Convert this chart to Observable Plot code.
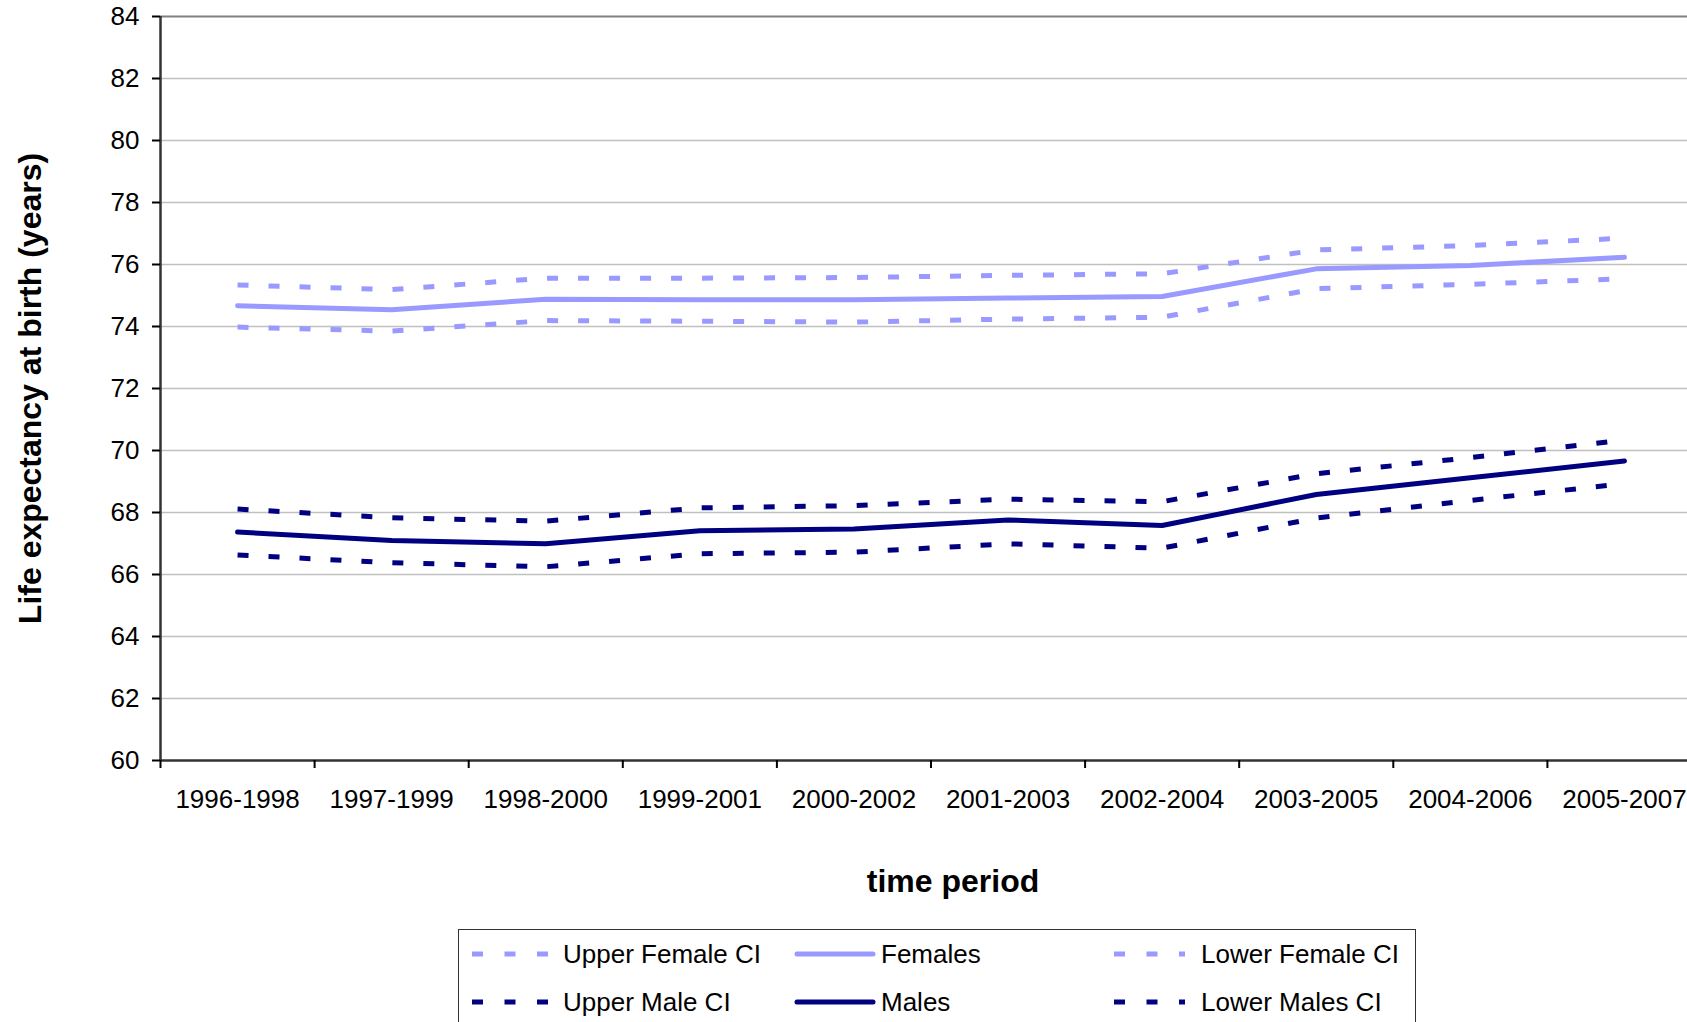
<!DOCTYPE html>
<html>
<head>
<meta charset="utf-8">
<script src="https://cdn.jsdelivr.net/npm/d3@7"></script>
<script src="https://cdn.jsdelivr.net/npm/@observablehq/plot@0.6"></script>
<style>
html, body { margin: 0; padding: 0; background: #fff; overflow: hidden; }
body { font-family: "Liberation Sans", Arial, sans-serif; color: #000; width: 1687px; height: 1022px; }
#chart svg { overflow: hidden; display: block; }
#legend { position: relative; margin-left: 458px; margin-top: 19px; width: 958px; height: 130px; border: 1.5px solid #333; box-sizing: border-box; background: #fff; }
.item { position: absolute; height: 40px; }
.item svg { position: absolute; left: 0; top: 0; overflow: visible; }
.item span { position: absolute; top: 50%; transform: translateY(-50%); font-size: 26px; white-space: nowrap; line-height: 1; }
</style>
</head>
<body>
<div id="chart"></div>
<div id="legend"></div>
<script>
// ---- data ----
const periods = ["1996-1998", "1997-1999", "1998-2000", "1999-2001", "2000-2002", "2001-2003", "2002-2004", "2003-2005", "2004-2006", "2005-2007"];
const upperFemaleCI = [75.34, 75.19, 75.56, 75.56, 75.58, 75.65, 75.70, 76.47, 76.61, 76.85];
const females       = [74.67, 74.54, 74.88, 74.86, 74.86, 74.92, 74.97, 75.86, 75.97, 76.23];
const lowerFemaleCI = [73.98, 73.85, 74.19, 74.17, 74.14, 74.24, 74.30, 75.22, 75.36, 75.54];
const upperMaleCI   = [68.11, 67.83, 67.72, 68.15, 68.22, 68.43, 68.35, 69.25, 69.77, 70.34];
const males         = [67.37, 67.10, 66.99, 67.41, 67.47, 67.76, 67.58, 68.58, 69.12, 69.66];
const lowerMalesCI  = [66.63, 66.38, 66.25, 66.67, 66.72, 66.99, 66.85, 67.82, 68.39, 68.93];
const yTicks = [60, 62, 64, 66, 68, 70, 72, 74, 76, 78, 80, 82, 84];
const seriesNames = ["Upper Female CI", "Females", "Lower Female CI", "Upper Male CI", "Males", "Lower Males CI"];
const yTitle = "Life expectancy at birth (years)";
const xTitle = "time period";

// ---- styling ----
const FEMALE = "#9999ff", MALE = "#000080";
const series = [
  {name: seriesNames[0], values: upperFemaleCI, color: FEMALE, dashed: true},
  {name: seriesNames[1], values: females,       color: FEMALE, dashed: false},
  {name: seriesNames[2], values: lowerFemaleCI, color: FEMALE, dashed: true},
  {name: seriesNames[3], values: upperMaleCI,   color: MALE,   dashed: true},
  {name: seriesNames[4], values: males,         color: MALE,   dashed: false},
  {name: seriesNames[5], values: lowerMalesCI,  color: MALE,   dashed: true}
];
const idx = d3.range(periods.length);
const bounds = d3.range(periods.length + 1).map(i => i - 0.5);

const lineMarks = series.map(s => Plot.line(idx, {
  x: i => i,
  y: i => s.values[i],
  stroke: s.color,
  strokeWidth: 5,
  strokeDasharray: s.dashed ? "11,20" : null,
  strokeLinecap: s.dashed ? "butt" : "round",
  strokeLinejoin: "round"
}));

const chart = Plot.plot({
  width: 1687,
  height: 910,
  marginLeft: 160,
  marginRight: 0,
  marginTop: 16,
  marginBottom: 150,
  style: {fontFamily: "'Liberation Sans', Arial, sans-serif", fontSize: "26px", color: "#000", background: "#fff", overflow: "hidden"},
  x: {type: "linear", domain: [-0.5, periods.length - 0.5], range: [160, 1701], axis: null},
  y: {domain: [60, 84], axis: null},
  marks: [
    Plot.ruleY(yTicks.filter(v => v > 60 && v < 84), {stroke: "#c0c0c0", strokeWidth: 1.5}),
    Plot.ruleY([84], {stroke: "#808080", strokeWidth: 2}),
    ...lineMarks,
    Plot.ruleY([60], {stroke: "#333", strokeWidth: 2.5}),
    Plot.ruleX([-0.5], {stroke: "#333", strokeWidth: 2.5}),
    Plot.axisY(yTicks, {tickSize: 8, tickPadding: 13, fontSize: 26, strokeWidth: 2, tickFormat: d => String(d)}),
    Plot.axisX(idx, {tickSize: 0, tickPadding: 29, fontSize: 26, tickFormat: i => periods[i]}),
    Plot.axisX(bounds, {tickSize: 8, strokeWidth: 2, tickFormat: () => ""}),
    Plot.text([yTitle], {text: d => d, frameAnchor: "left", textAnchor: "middle", lineAnchor: "middle", dx: -130, rotate: -90, fontSize: 32, fontWeight: "bold"}),
    Plot.text([xTitle], {text: d => d, frameAnchor: "bottom", textAnchor: "middle", dx: 29, dy: 121, fontSize: 32, fontWeight: "bold", lineAnchor: "middle"})
  ]
});
document.getElementById("chart").appendChild(chart);

// ---- legend ----
const legend = document.getElementById("legend");
const cols = [{sw: 13, len: 76, tx: 104}, {sw: 335, len: 82, tx: 422}, {sw: 655, len: 71, tx: 742}];
const rows = [24, 72];
series.forEach((s, k) => {
  const c = cols[k % 3], r = rows[Math.floor(k / 3)];
  const item = document.createElement("div");
  item.className = "item";
  item.style.left = c.sw + "px";
  item.style.top = (r - 20) + "px";
  item.style.width = (c.tx - c.sw + 260) + "px";
  const ns = "http://www.w3.org/2000/svg";
  const svg = document.createElementNS(ns, "svg");
  svg.setAttribute("width", c.len);
  svg.setAttribute("height", 40);
  const ln = document.createElementNS(ns, "line");
  ln.setAttribute("x1", s.dashed ? 0 : 3);
  ln.setAttribute("x2", s.dashed ? c.len : c.len - 3);
  ln.setAttribute("y1", 20);
  ln.setAttribute("y2", 20);
  ln.setAttribute("stroke", s.color);
  ln.setAttribute("stroke-width", 5);
  if (s.dashed) ln.setAttribute("stroke-dasharray", "11,21.5");
  else ln.setAttribute("stroke-linecap", "round");
  svg.appendChild(ln);
  item.appendChild(svg);
  const sp = document.createElement("span");
  sp.style.left = (c.tx - c.sw) + "px";
  sp.textContent = s.name;
  item.appendChild(sp);
  legend.appendChild(item);
});
</script>
</body>
</html>
